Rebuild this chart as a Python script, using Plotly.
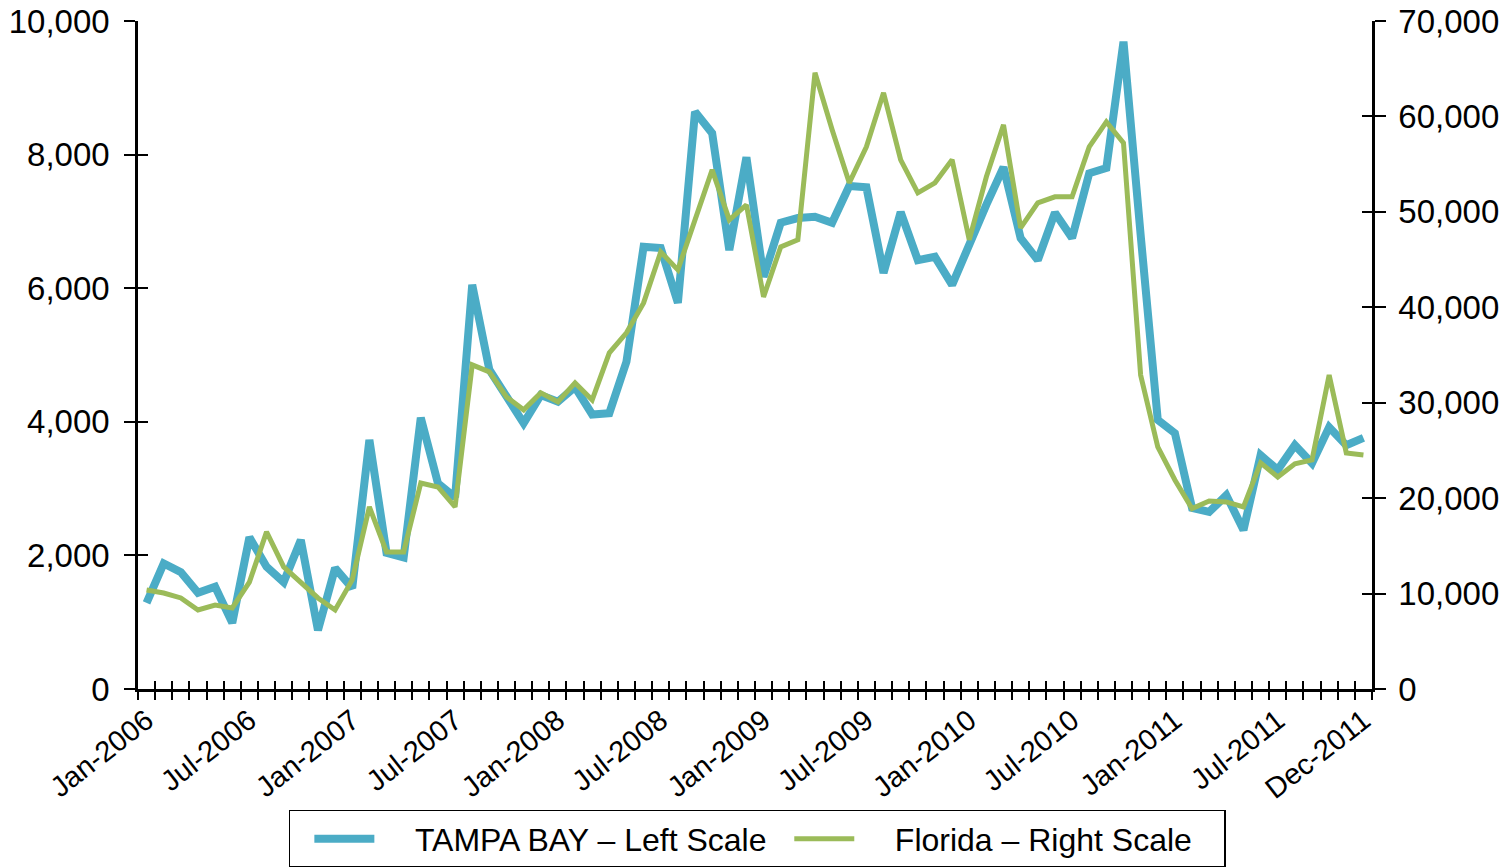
import plotly.graph_objects as go
import pandas as pd

# Monthly categories Jan-2006 .. Dec-2011
months = pd.date_range("2006-01-01", "2011-12-01", freq="MS").strftime("%b-%Y").tolist()

# TAMPA BAY (left scale)
tampa = [1290, 1880, 1750, 1440, 1530, 990, 2270, 1830, 1600, 2230, 880, 1810,
         1510, 3730, 2040, 1970, 4060, 3080, 2870, 6050, 4780, 4370, 3980, 4400,
         4300, 4520, 4110, 4130, 4900, 6620, 6600, 5780, 8640, 8320, 6570, 7960,
         6170, 6980, 7050, 7070, 6980, 7530, 7510, 6230, 7140, 6420, 6470, 6050,
         6690, 7250, 7810, 6750, 6420, 7130, 6750, 7720, 7800, 9690, 6800, 4030,
         3830, 2710, 2650, 2900, 2380, 3500, 3280, 3650, 3380, 3920, 3650, 3760]

# Florida (right scale)
florida = [10380, 10060, 9540, 8280, 8800, 8490, 11200, 16460, 12790, 11220, 9540, 8280,
           11430, 19080, 14360, 14360, 21590, 21170, 19080, 33960, 33230, 30600, 29250, 31030,
           30080, 32080, 30290, 35220, 37320, 40460, 45800, 43920, 49160, 54400, 49160, 50730,
           41090, 46330, 47070, 64570, 58600, 53040, 56810, 62470, 55450, 51990, 53040, 55450,
           47070, 53670, 59120, 48320, 50940, 51570, 51570, 56810, 59430, 57230, 32900, 25370,
           21900, 18900, 19700, 19600, 19080, 23700, 22220, 23600, 24000, 32910, 24740, 24530]

tick_labels = ["Jan-2006", "Jul-2006", "Jan-2007", "Jul-2007", "Jan-2008", "Jul-2008",
               "Jan-2009", "Jul-2009", "Jan-2010", "Jul-2010", "Jan-2011", "Jul-2011",
               "Dec-2011"]

left_ticks = [0, 2000, 4000, 6000, 8000, 10000]
right_ticks = [0, 10000, 20000, 30000, 40000, 50000, 60000, 70000]

x = list(range(len(months)))
tick_pos = [months.index(t) for t in tick_labels]
boundaries = [i - 0.5 for i in range(len(months) + 1)]
xr = [-0.5, len(months) - 0.5]

BLUE = "#4BACC6"
GREEN = "#9BBB59"
FONT = "Liberation Sans, Arial, sans-serif"
NB = "\u00a0"

fig = go.Figure()
fig.add_trace(go.Scatter(x=x, y=tampa, mode="lines",
                         name=NB * 4 + "TAMPA BAY \u2013 Left Scale" + NB * 2,
                         line=dict(color=BLUE, width=8), xaxis="x", yaxis="y"))
fig.add_trace(go.Scatter(x=x, y=florida, mode="lines",
                         name=NB * 4 + "Florida \u2013 Right Scale" + NB * 3,
                         line=dict(color=GREEN, width=5), xaxis="x", yaxis="y2"))

# invisible helper traces so the overlay axes (cross ticks, labels) are drawn
for xa, ya in [("x2", "y"), ("x3", "y"), ("x", "y3"), ("x", "y4")]:
    fig.add_trace(go.Scatter(x=[0], y=[0], mode="markers", marker=dict(opacity=0),
                             xaxis=xa, yaxis=ya, showlegend=False, hoverinfo="skip"))

axis_common = dict(showgrid=False, zeroline=False, tickcolor="black", tickwidth=2,
                   automargin=False)

fig.update_layout(
    width=1507, height=867,
    margin=dict(l=138, r=135, t=21, b=178, autoexpand=False),
    paper_bgcolor="white", plot_bgcolor="white",
    font=dict(family=FONT, color="black"),
    showlegend=True,
    legend=dict(orientation="h", x=0.502, xanchor="center", y=-0.181, yanchor="top",
                bordercolor="black", borderwidth=1.5, font=dict(size=32, family=FONT),
                itemwidth=60, title=dict(text=NB * 1, side="left", font=dict(size=32))),
    xaxis=dict(range=xr, tickmode="array", tickvals=boundaries,
               ticktext=[""] * len(boundaries), ticks="outside", ticklen=8,
               showline=True, linecolor="black", linewidth=2.5, **axis_common),
    xaxis2=dict(range=xr, overlaying="x", anchor="y", side="bottom", tickmode="array",
                tickvals=boundaries, ticktext=[""] * len(boundaries), ticks="inside",
                ticklen=8, showline=False, **axis_common),
    xaxis3=dict(range=xr, overlaying="x", anchor="y", side="bottom", tickmode="array",
                tickvals=tick_pos, ticktext=tick_labels, ticks="", tickangle=-38,
                tickfont=dict(size=29, family=FONT), showline=False,
                ticklabelstandoff=8, ticklabeloverflow="allow",
                showgrid=False, zeroline=False, automargin=False),
    yaxis=dict(range=[0, 10000], tickmode="array", tickvals=left_ticks,
               tickformat=",", ticks="outside", ticklen=11, showline=True,
               linecolor="black", linewidth=2.5, tickfont=dict(size=33, family=FONT),
               ticklabelstandoff=8, ticklabeloverflow="allow", **axis_common),
    yaxis3=dict(range=[0, 10000], overlaying="y", side="left", anchor="x",
                tickmode="array", tickvals=left_ticks, ticks="inside", ticklen=10,
                showticklabels=False, showline=False, **axis_common),
    yaxis2=dict(range=[0, 70000], overlaying="y", side="right", anchor="x",
                tickmode="array", tickvals=right_ticks, tickformat=",",
                ticks="outside", ticklen=11, showline=True, linecolor="black",
                linewidth=2.5, tickfont=dict(size=33, family=FONT),
                ticklabelstandoff=6, ticklabeloverflow="allow", **axis_common),
    yaxis4=dict(range=[0, 70000], overlaying="y", side="right", anchor="x",
                tickmode="array", tickvals=right_ticks, ticks="inside", ticklen=10,
                showticklabels=False, showline=False, **axis_common),
)

fig.write_html("out.html", config={"displayModeBar": False},
               post_script="document.body.style.margin='0px';document.body.style.overflow='hidden';")
